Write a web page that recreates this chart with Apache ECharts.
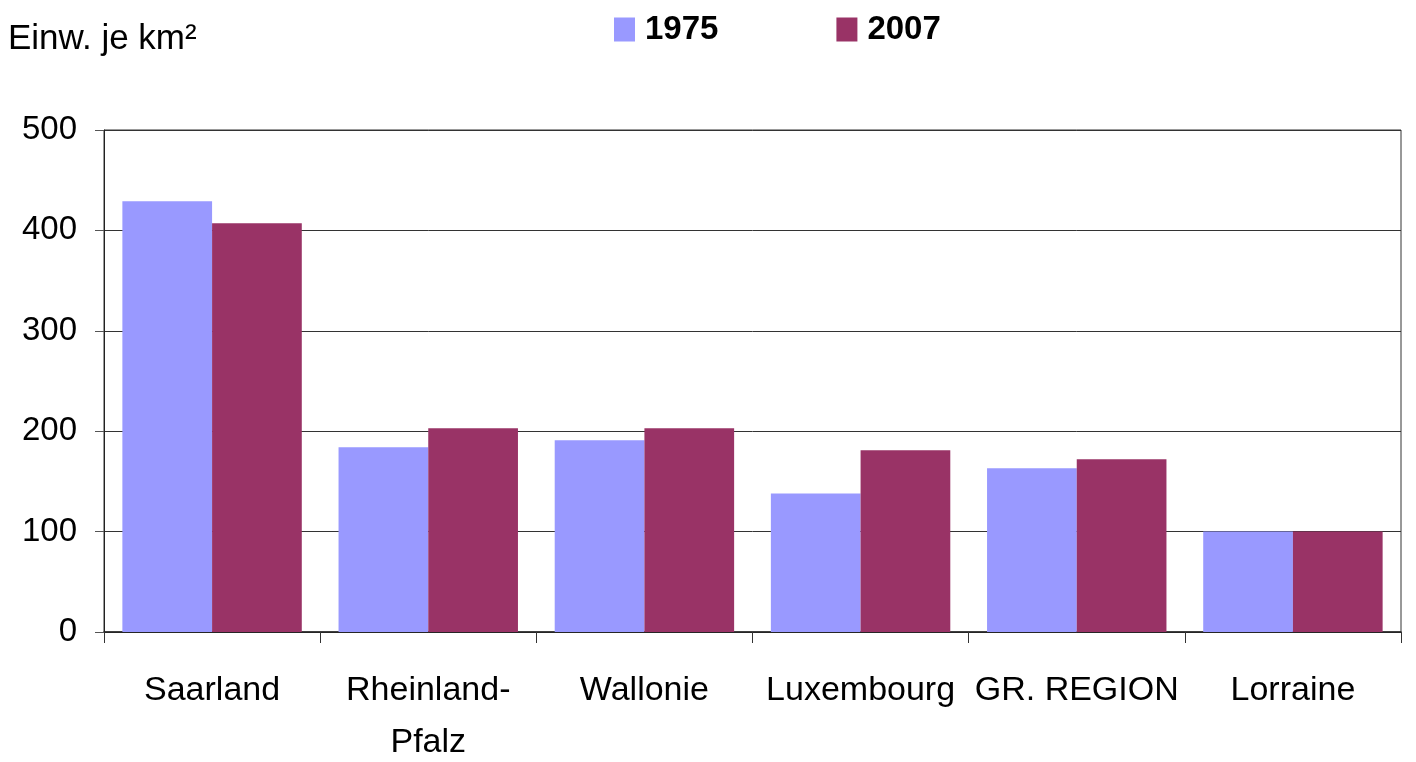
<!DOCTYPE html>
<html>
<head>
<meta charset="utf-8">
<script src="https://cdn.jsdelivr.net/npm/echarts@6/dist/echarts.min.js"></script>
<style>
html,body{margin:0;padding:0;background:#fff;}
#c{width:1416px;height:762px;}
</style>
</head>
<body>
<div id="c"></div>
<script>
const categories = ['Saarland', 'Rheinland-\nPfalz', 'Wallonie', 'Luxembourg', 'GR. REGION', 'Lorraine'];
const values1975 = [429, 184, 191, 138, 163, 100];
const values2007 = [407, 203, 203, 181, 172, 100];
const yTicks = [0, 100, 200, 300, 400, 500];
const unitLabel = 'Einw. je km²';

const FONT = "'Liberation Sans', Arial, sans-serif";
const chart = echarts.init(document.getElementById('c'), null, {renderer: 'canvas'});
chart.setOption({
  animation: false,
  backgroundColor: '#fff',
  title: {
    text: unitLabel,
    left: 3,
    top: 17,
    textStyle: {fontFamily: FONT, fontSize: 35, fontWeight: 'normal', color: '#000'}
  },
  legend: {
    left: 609,
    top: 8,
    itemWidth: 21,
    itemHeight: 24,
    itemGap: 118,
    icon: 'rect',
    textStyle: {fontFamily: FONT, fontSize: 33, fontWeight: 'bold', color: '#000', padding: [0, 0, 6, 5]},
    data: ['1975', '2007']
  },
  grid: {
    left: 104, right: 15, top: 130, bottom: 130,
    containLabel: false, outerBoundsMode: 'none',
    show: true, borderColor: '#333', borderWidth: 1
  },
  xAxis: {
    type: 'category',
    data: categories,
    axisLine: {lineStyle: {color: '#222', width: 1.5}},
    axisTick: {show: true, length: 11, lineStyle: {color: '#333'}},
    axisLabel: {
      interval: 0, margin: 33, color: '#000',
      fontFamily: FONT, fontSize: 34, lineHeight: 52
    }
  },
  yAxis: {
    type: 'value',
    min: yTicks[0], max: yTicks[yTicks.length - 1], interval: 100,
    axisLine: {show: true, lineStyle: {color: '#222'}},
    axisTick: {show: true, length: 9, lineStyle: {color: '#555'}},
    splitLine: {lineStyle: {color: '#333', width: 1}},
    axisLabel: {margin: 27, color: '#000', fontFamily: FONT, fontSize: 33}
  },
  series: [
    {name: '1975', type: 'bar', data: values1975, itemStyle: {color: '#9999FF'},
     barGap: '0%', barCategoryGap: '17%'},
    {name: '2007', type: 'bar', data: values2007, itemStyle: {color: '#993366'},
     barGap: '0%', barCategoryGap: '17%'}
  ]
});
</script>
</body>
</html>
